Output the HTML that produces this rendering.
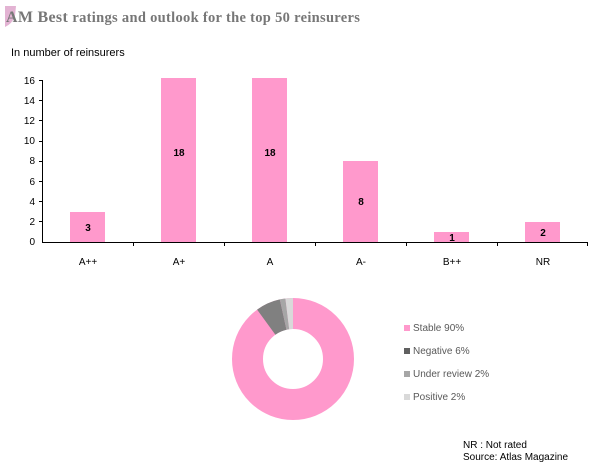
<!DOCTYPE html>
<html><head><style>
body{margin:0;background:#fff;width:600px;height:466px;overflow:hidden;font-family:"Liberation Sans",sans-serif}
</style></head><body>
<svg width="600" height="466" xmlns="http://www.w3.org/2000/svg" font-family="Liberation Sans, sans-serif">
<path d="M5 6 L16 6 L15 16 Q12 24 5 27 Z" fill="#e3b3d3"/>
<text x="6" y="22" font-family="Liberation Serif, serif" font-weight="bold" font-size="16" fill="#777" letter-spacing="0.3">AM Best <tspan font-size="14.5">ratings and outlook for the top 50 reinsurers</tspan></text>
<text x="11" y="56" font-size="11" fill="#000">In number of reinsurers</text>
<g font-size="10" fill="#000" text-anchor="end">
<text x="35" y="245">0</text><text x="35" y="225">2</text><text x="35" y="205">4</text><text x="35" y="185">6</text><text x="35" y="164">8</text><text x="35" y="144">10</text><text x="35" y="124">12</text><text x="35" y="104">14</text><text x="35" y="84">16</text>
</g>
<g stroke="#000" stroke-width="1">
<line x1="42.5" y1="80" x2="42.5" y2="242"/>
<line x1="42" y1="242.5" x2="588" y2="242.5"/>
<line x1="39" y1="80.5" x2="42" y2="80.5"/><line x1="39" y1="100.5" x2="42" y2="100.5"/><line x1="39" y1="120.5" x2="42" y2="120.5"/><line x1="39" y1="141.5" x2="42" y2="141.5"/><line x1="39" y1="161.5" x2="42" y2="161.5"/><line x1="39" y1="181.5" x2="42" y2="181.5"/><line x1="39" y1="201.5" x2="42" y2="201.5"/><line x1="39" y1="221.5" x2="42" y2="221.5"/>
<line x1="133.5" y1="242" x2="133.5" y2="246"/><line x1="224.5" y1="242" x2="224.5" y2="246"/><line x1="315.5" y1="242" x2="315.5" y2="246"/><line x1="406.5" y1="242" x2="406.5" y2="246"/><line x1="497.5" y1="242" x2="497.5" y2="246"/><line x1="587.5" y1="242" x2="587.5" y2="246"/>
</g>
<g fill="#ff99cc">
<rect x="70" y="212" width="35" height="30"/>
<rect x="161" y="78" width="35" height="164"/>
<rect x="252" y="78" width="35" height="164"/>
<rect x="343" y="161" width="35" height="81"/>
<rect x="434" y="232" width="35" height="10"/>
<rect x="525" y="222" width="35" height="20"/>
</g>
<g font-size="10" font-weight="bold" text-anchor="middle" fill="#000">
<text x="88" y="231">3</text><text x="179" y="156">18</text><text x="270" y="156">18</text><text x="361" y="205">8</text><text x="452" y="241">1</text><text x="543" y="236">2</text>
</g>
<g font-size="10" text-anchor="middle" fill="#000">
<text x="88" y="265">A++</text><text x="179" y="265">A+</text><text x="270" y="265">A</text><text x="361" y="265">A-</text><text x="452" y="265">B++</text><text x="543" y="265">NR</text>
</g>
<g transform="translate(293,359)">
<circle r="45.5" fill="none" stroke="#ff99cc" stroke-width="31"/>
<path d="M -35.9 -49.4 A 61 61 0 0 1 -13.2 -59.6 L -6.5 -29.3 A 30 30 0 0 0 -17.6 -24.3 Z" fill="#808080"/>
<path d="M -13.2 -59.6 A 61 61 0 0 1 -7.6 -60.5 L -3.8 -29.8 A 30 30 0 0 0 -6.5 -29.3 Z" fill="#a6a6a6"/>
<path d="M -7.6 -60.5 A 61 61 0 0 1 0 -61 L 0 -30 A 30 30 0 0 0 -3.8 -29.8 Z" fill="#d9d9d9"/>
</g>
<g font-size="10" fill="#595959">
<rect x="404" y="325" width="6" height="6" fill="#ff99cc"/><text x="413" y="331">Stable 90%</text>
<rect x="404" y="348" width="6" height="6" fill="#606060"/><text x="413" y="354">Negative 6%</text>
<rect x="404" y="371" width="6" height="6" fill="#a6a6a6"/><text x="413" y="377">Under review 2%</text>
<rect x="404" y="394" width="6" height="6" fill="#d9d9d9"/><text x="413" y="400">Positive 2%</text>
</g>
<g font-size="10" fill="#000">
<text x="463" y="448">NR : Not rated</text>
<text x="463" y="460">Source: Atlas Magazine</text>
</g>
</svg>
</body></html>
